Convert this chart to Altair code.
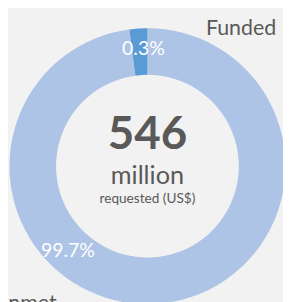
import altair as alt
import pandas as pd
import math

# data
categories = ["Unmet", "Funded"]
shares_pct = [99.7, 0.3]            # real shares (labels)
display_share = [97.9, 2.1]         # arc sizes as drawn (min-slice display)
label_text = ["99.7%", "0.3%"]
label_angle_deg = [223, -2]         # where the % labels sit
colors = ["#aec4e6", "#5b9bd5"]

center_lines = ["546", "million", "requested (US$)"]

W, H = 283, 294
CX, CY = 143.5, 158.5

arc_df = pd.DataFrame({"cat": categories, "share": display_share, "order": [0, 1]})
lab_df = pd.DataFrame({"txt": label_text, "ang": [math.radians(a) for a in label_angle_deg]})

arc = alt.Chart(arc_df).mark_arc(outerRadius=142, innerRadius=94, stroke=None).encode(
    theta=alt.Theta("share:Q", stack=True),
    color=alt.Color("cat:N", scale=alt.Scale(domain=categories, range=colors), legend=None),
    order=alt.Order("order:Q"),
    x=alt.value(CX), y=alt.value(CY),
)

pct = alt.Chart(lab_df).mark_text(fontSize=20, color="white", baseline="middle", align="center").encode(
    theta=alt.Theta("ang:Q", scale=None),
    radius=alt.value(120),
    text="txt:N",
    x=alt.value(CX), y=alt.value(CY),
)

def txt(s, x, y, size, weight="normal", align="center"):
    return alt.Chart(pd.DataFrame({"t": [s]})).mark_text(
        fontSize=size, fontWeight=weight, color="#595959", align=align, baseline="alphabetic"
    ).encode(text="t:N", x=alt.value(x), y=alt.value(y))

big = txt(center_lines[0], CX, 141, 47, "bold")
mil = txt(center_lines[1], CX, 177, 26)
req = txt(center_lines[2], CX, 196, 14)
funded = txt(categories[1], 276, 23, 22, align="right")
unmet = txt(categories[0], 50, 306, 22, align="right")

chart = alt.layer(arc, pct, big, mil, req, funded, unmet).properties(
    width=W, height=H, autosize="none", padding=0, background="#f2f2f2"
).configure_view(stroke=None).configure_text(font="Lato")

chart.save("out.html", embed_options={"renderer": "svg", "actions": False})
